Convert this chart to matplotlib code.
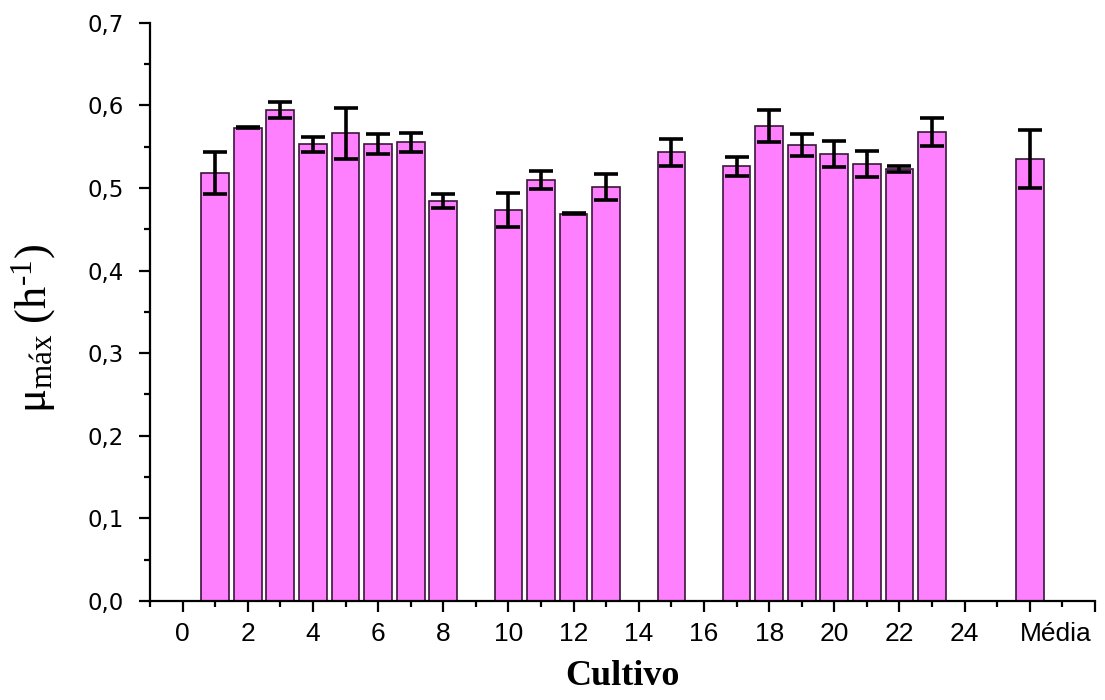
import matplotlib
matplotlib.use("Agg")
import matplotlib.pyplot as plt
from matplotlib.ticker import MultipleLocator, FixedLocator
from matplotlib.transforms import ScaledTranslation

cultivo = [1, 2, 3, 4, 5, 6, 7, 8, 10, 11, 12, 13, 15, 17, 18, 19, 20, 21, 22, 23]
mu_max = [0.518, 0.573, 0.594, 0.553, 0.566, 0.553, 0.555, 0.484, 0.473, 0.510,
          0.469, 0.501, 0.543, 0.526, 0.575, 0.552, 0.541, 0.529, 0.523, 0.568]
mu_err = [0.025, 0.001, 0.0095, 0.009, 0.031, 0.0125, 0.012, 0.0087, 0.0205, 0.011,
          0.001, 0.016, 0.016, 0.012, 0.019, 0.0137, 0.016, 0.0163, 0.0036, 0.0167]
media_pos = 26
media_val = 0.535
media_err = 0.035

xtick_pos = [0, 2, 4, 6, 8, 10, 12, 14, 16, 18, 20, 22, 24, 26, 28]
xtick_labels = ["0", "2", "4", "6", "8", "10", "12", "14", "16", "18", "20", "22", "24", "Média", ""]
ytick_pos = [0.0, 0.1, 0.2, 0.3, 0.4, 0.5, 0.6, 0.7]
ytick_labels = ["0,0", "0,1", "0,2", "0,3", "0,4", "0,5", "0,6", "0,7"]

plt.rcParams['mathtext.fontset'] = 'custom'
plt.rcParams['mathtext.rm'] = 'Liberation Serif'
plt.rcParams['mathtext.it'] = 'Liberation Serif:italic'
plt.rcParams['mathtext.bf'] = 'Liberation Serif:bold'

fig = plt.figure(figsize=(11.05, 7.0), dpi=100)
ax = fig.add_axes([150/1105, 1-601/700, (1095-150)/1105, (601-22.7)/700])

xs = cultivo + [media_pos]
ys = mu_max + [media_val]
es = mu_err + [media_err]

ax.bar(xs, ys, width=0.85, color='#FF80FF', edgecolor='#3a163a', linewidth=1.2, zorder=2)
ax.errorbar(xs, ys, yerr=es, fmt='none', ecolor='black', elinewidth=2.6,
            capsize=8.5, capthick=2.6, zorder=3)

ax.set_xlim(-1, 28)
ax.set_ylim(0, 0.7)

ax.xaxis.set_major_locator(FixedLocator(xtick_pos))
ax.set_xticklabels(xtick_labels)
ax.xaxis.set_minor_locator(FixedLocator(list(range(-1, 28, 2))))
ax.yaxis.set_major_locator(FixedLocator(ytick_pos))
ax.set_yticklabels(ytick_labels)
ax.yaxis.set_minor_locator(MultipleLocator(0.05))

for s in ['top', 'right']:
    ax.spines[s].set_visible(False)
for s in ['left', 'bottom']:
    ax.spines[s].set_linewidth(1.6)

ax.tick_params(axis='both', which='major', direction='out', length=8, width=1.6)
ax.tick_params(axis='both', which='minor', direction='out', length=4.3, width=1.6)
ax.tick_params(axis='x', which='major', labelsize=19, pad=7)
ax.tick_params(axis='y', which='major', labelsize=16.5, pad=11)
for lab in ax.get_xticklabels():
    lab.set_fontfamily('Liberation Sans')
for lab in ax.get_yticklabels():
    lab.set_fontfamily('DejaVu Sans')

# shift the "Média" label slightly right like the reference
media_label = ax.get_xticklabels()[13]
media_label.set_transform(media_label.get_transform() + ScaledTranslation(26/100, 0, fig.dpi_scale_trans))

ax.set_xlabel('Cultivo', fontfamily='Liberation Serif', fontweight='bold', fontsize=26, labelpad=10)
ax.set_ylabel('μ$_{\\mathrm{máx}}$ (h$^{\\text{-1}}$)', fontfamily='Liberation Serif', fontsize=32)
ax.yaxis.set_label_coords(-0.097, 0.472)

fig.savefig('out.png', dpi=100)
